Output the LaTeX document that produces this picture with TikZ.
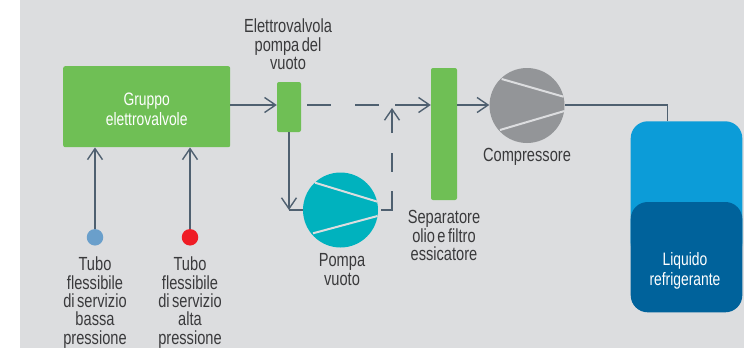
\documentclass[tikz,border=0pt]{standalone}
\usepackage{fontspec}
\setmainfont[FakeStretch=0.77,WordSpace=0.6]{Liberation Sans}
\usetikzlibrary{arrows.meta}
\definecolor{bg}{HTML}{DCDDDF}
\definecolor{grn}{HTML}{6FBF55}
\definecolor{teal1}{HTML}{00B2BE}
\definecolor{gry}{HTML}{939598}
\definecolor{lineC}{HTML}{4F6070}
\definecolor{txt}{HTML}{3A3A3C}
\definecolor{tankL}{HTML}{0C9CD8}
\definecolor{tankD}{HTML}{00629B}
\definecolor{dotB}{HTML}{6A9FCB}
\definecolor{dotR}{HTML}{EF1C25}
\tikzset{
  unit/.style={x=1pt,y=-1pt},
  greenbox/.style={fill=grn,rounded corners=2pt,inner sep=0pt,draw=none},
  pipe/.style={draw=lineC,line width=1.4pt},
  flow/.style={pipe,-{Straight Barb[length=11pt,width=15pt,line width=1.4pt]}},
  lab/.style={text=txt,align=center,inner sep=0pt,font=\fontsize{19}{18.3}\selectfont},
  whitelab/.style={text=white,align=center,inner sep=0pt,font=\fontsize{18}{20.5}\selectfont},
  pumpc/.style={circle,minimum size=75pt,inner sep=0pt},
  vane/.style={draw=bg,line width=2pt},
  dotc/.style={circle,minimum size=16.5pt,inner sep=0pt},
}
\begin{document}
\begin{tikzpicture}[unit]
\useasboundingbox (0,0) rectangle (744,348);
\fill[white] (0,0) rectangle (744,348);
\fill[bg] (20,0) rectangle (744,348);

% tank
\fill[tankL,rounded corners=17pt] (630.7,121.3) rectangle (742.3,260);
\fill[tankD,rounded corners=17pt] (630.7,202) rectangle (742.3,312.3);
\coordinate (tanktop) at (667.3,121.3);

% boxes
\node[greenbox,minimum width=167pt,minimum height=81pt] (group) at (146.7,106.7) {};
\node[whitelab,anchor=center] (grouplab) at (146.7,109.5) {Gruppo\\elettrovalvole};
\node[greenbox,minimum width=24pt,minimum height=50pt] (valve) at (289,107) {};
\node[greenbox,minimum width=26pt,minimum height=132pt] (sep) at (444,134) {};

% compressors
\node[pumpc,fill=gry] (comp) at (527,105.5) {};
\draw[vane] (501.7,79) -- (563.5,96.7);
\draw[vane] (500,130) -- (564.5,111);
\node[pumpc,fill=teal1] (pump) at (340.5,210) {};
\draw[vane] (315,182.7) -- (377.5,201.7);
\draw[vane] (313,233.3) -- (377.5,216);

% dots
\node[dotc,fill=dotB] (lowdot) at (95,237.3) {};
\node[dotc,fill=dotR] (highdot) at (190,237.3) {};

% connectors
\coordinate (vin) at (valve.west |- 0,105);
\coordinate (gout) at (group.east |- 0,105);
\coordinate (vout) at (valve.east |- 0,105);
\coordinate (sepin) at (sep.west |- 0,105);
\coordinate (sepout) at (sep.east |- 0,105);
\coordinate (compin) at (comp.west |- 0,105);
\coordinate (compout) at (comp.east |- 0,105);
\coordinate (merge) at (395,105);
\coordinate (corner) at (392,210);
\coordinate (risetop) at (392,133);
\coordinate (risetip) at (392,108);
\coordinate (elbow) at (289,210);
\coordinate (tee) at (667.3,105);

\draw[flow] (gout) -- (vin);
\draw[pipe,dash pattern=on 0pt off 6pt on 24pt off 24pt on 24pt off 60pt] (vout) -- (merge);
\draw[flow] (merge) -- (sepin);
\draw[flow] (sepout) -- (compin);
\draw[pipe,line width=1.2pt] (compout) -- (tee) -- (tanktop);
\draw[flow] (valve.south) -- (elbow);
\draw[pipe] (elbow) -- (pump.west);
\draw[pipe,dash pattern=on 0pt off 3pt on 30pt off 19pt on 19pt off 60pt] (pump.east) -- (corner) -- (risetop);
\draw[flow] (risetop) -- (risetip);
\draw[flow] (lowdot.north) -- (lowdot.north |- group.south);
\draw[flow] (highdot.north) -- (highdot.north |- group.south);

% labels
\node[lab] (l1) at (288,44.5) {Elettrovalvola\\pompa del\\vuoto};
\node[lab] (l2) at (444,235.5) {Separatore\\olio e filtro\\essicatore};
\node[lab] (l3) at (527,156.5) {Compressore};
\node[lab] (l4) at (342,269.5) {Pompa\\vuoto};
\node[lab] (l5) at (95,302.5) {Tubo\\flessibile\\di servizio\\bassa\\pressione};
\node[lab] (l6) at (190,302.5) {Tubo\\flessibile\\di servizio\\alta\\pressione};
\node[whitelab] (l7) at (685,271) {Liquido\\refrigerante};
\end{tikzpicture}
\end{document}
